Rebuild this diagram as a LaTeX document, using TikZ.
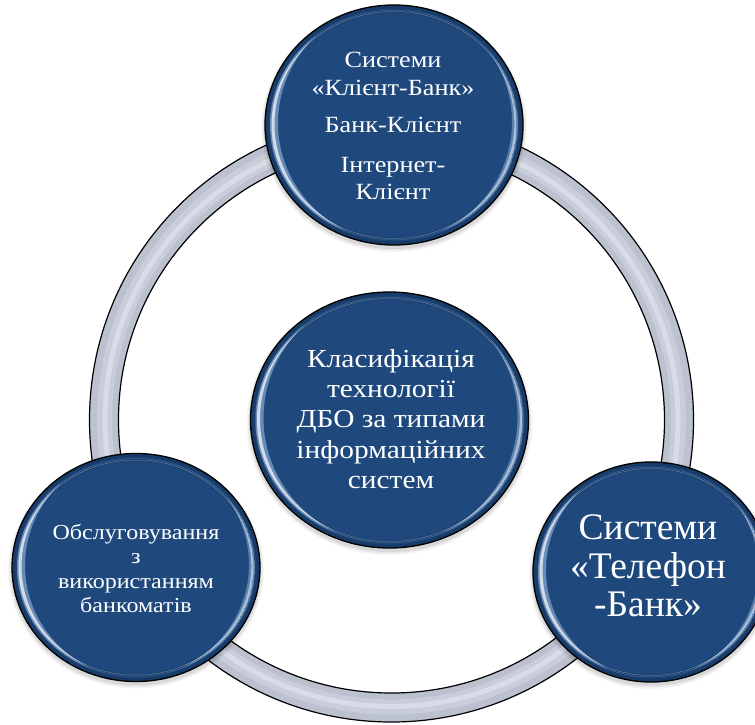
\documentclass[tikz,border=0pt]{standalone}
\usepackage{fontspec}
\setmainfont{Liberation Serif}
\newfontfamily\widelabel{Liberation Serif}[FakeStretch=1.13]
\usetikzlibrary{shapes.geometric}

\definecolor{discblue}{RGB}{31,73,125}
\definecolor{discdark}{RGB}{16,42,78}
\definecolor{glint}{RGB}{165,196,232}
\definecolor{ringgray}{RGB}{188,193,207}
\definecolor{ringmid}{RGB}{200,205,217}
\definecolor{ringlight}{RGB}{216,220,230}

\tikzset{
  disc/.style={ellipse, fill=discblue, draw=none, inner sep=0pt, outer sep=0pt},
  disctext/.style={text=white, align=center, inner sep=0pt},
  rim/.style={black, line width=1.3pt},
}

% glossy disc: name, centre x, centre y, x radius, y radius
\newcommand{\polisheddisc}[5]{%
  % soft drop shadow
  \foreach \s/\o in {5/0.035,3.5/0.05,2/0.07}{
    \fill[black, opacity=\o] (#2,#3-3) ellipse[x radius=#4+\s-1, y radius=#5+\s-1];
  }
  \node[disc, minimum width={2*#4}, minimum height={2*#5}] (#1) at (#2,#3) {};
  \begin{scope}
    \clip (#2,#3) ellipse[x radius=#4, y radius=#5];
    % darker band just inside the edge
    \draw[discdark, opacity=0.18, line width=16pt] (#2,#3) ellipse[x radius=#4, y radius=#5];
    \draw[discdark, opacity=0.28, line width=7pt] (#2,#3) ellipse[x radius=#4, y radius=#5];
  \end{scope}
  % light crescent on the left
  \begin{scope}
    \clip (#2,#3) ellipse[x radius=#4-5, y radius=#5-5];
    \fill[glint, opacity=0.55, even odd rule]
      (#2,#3) ellipse[x radius=#4-5, y radius=#5-5]
      (#2+8,#3+2) ellipse[x radius=#4-5, y radius=#5+1];
  \end{scope}
  \begin{scope}
    \clip (#2,#3) ellipse[x radius=#4-6.5, y radius=#5-6.5];
    \fill[white, opacity=0.7, even odd rule]
      (#2,#3) ellipse[x radius=#4-6.5, y radius=#5-6.5]
      (#2+3,#3+1) ellipse[x radius=#4-6.5, y radius=#5-4];
  \end{scope}
  % weaker crescent on the lower right
  \begin{scope}
    \clip (#2,#3) ellipse[x radius=#4-5, y radius=#5-5];
    \fill[glint, opacity=0.45, even odd rule]
      (#2,#3) ellipse[x radius=#4-5, y radius=#5-5]
      (#2-6,#3+3) ellipse[x radius=#4-5, y radius=#5+1];
  \end{scope}
  \begin{scope}
    \clip (#2,#3) ellipse[x radius=#4-6.5, y radius=#5-6.5];
    \fill[white, opacity=0.5, even odd rule]
      (#2,#3) ellipse[x radius=#4-6.5, y radius=#5-6.5]
      (#2-2.2,#3+1.5) ellipse[x radius=#4-6.5, y radius=#5-4];
  \end{scope}
  \draw[rim] (#2,#3) ellipse[x radius=#4, y radius=#5];
}

\begin{document}
\begin{tikzpicture}[x=1pt, y=1pt]
  \fill[white] (0,0) rectangle (755,-724);
  \useasboundingbox (0,0) rectangle (755,-724);

  % the ring linking the three outer discs
  \coordinate (hub) at (391.5,-420);
  \draw[ringgray, line width=29pt] (hub) circle[radius=287.5];
  \draw[ringmid, line width=15pt] (hub) circle[radius=287];
  \draw[ringlight, line width=5pt] (hub) circle[radius=286.5];
  \draw[rim, line width=1.2pt] (hub) circle[radius=302];
  \draw[rim, line width=1.2pt] (hub) circle[radius=273];

  % discs
  \polisheddisc{centre}{389.5}{-420}{139}{128}
  \polisheddisc{web}{394}{-125}{129}{120}
  \polisheddisc{atm}{136}{-567.5}{124}{114}
  \polisheddisc{phone}{651}{-572}{118}{110}

  % labels
  \node[disctext, font=\widelabel\fontsize{23.2}{27.5}\selectfont] (webtext) at (393,-126)
    {Системи\\«Клієнт-Банк»\\[9.5pt]Банк-Клієнт\\[12.5pt]Інтернет-\\Клієнт};
  \node[disctext, font=\widelabel\fontsize{26}{30.3}\selectfont] (centretext) at (391,-419)
    {Класифікація\\технології\\ДБО за типами\\інформаційних\\систем};
  \node[disctext, font=\widelabel\fontsize{21.3}{24.5}\selectfont] (atmtext) at (136,-568.5)
    {Обслуговування\\з\\використанням\\банкоматів};
  \node[disctext, font=\fontsize{37.5}{38.3}\selectfont] (phonetext) at (648,-566)
    {Системи\\«Телефон\\-Банк»};
\end{tikzpicture}
\end{document}
